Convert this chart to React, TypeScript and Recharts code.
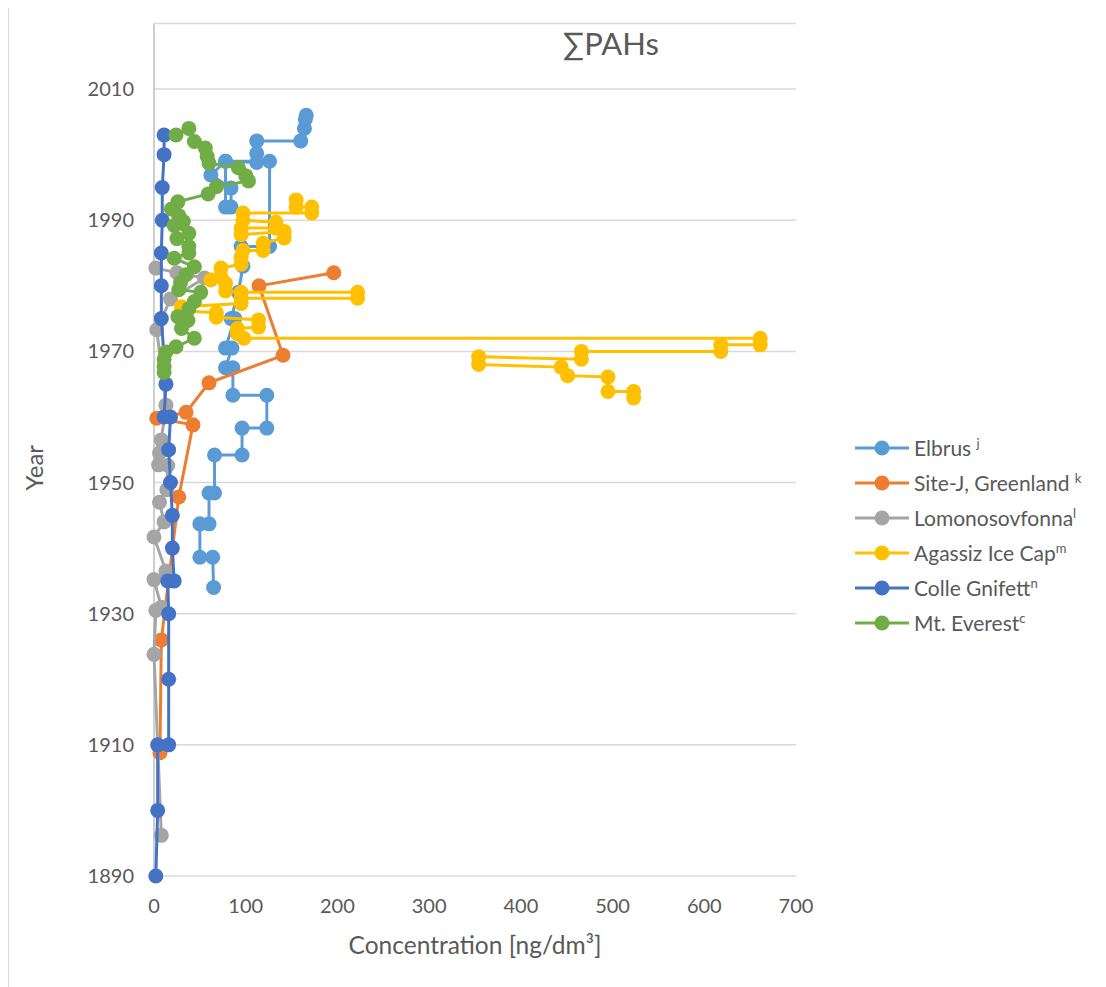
import { ScatterChart, Scatter, XAxis, YAxis, CartesianGrid, Label } from "recharts";

const FONT = "Lato, 'Open Sans', sans-serif";
const TXT = "#595959";

// [concentration, year]
const elbrus: [number, number][] = [
  [166, 2006], [165, 2005.4], [164, 2004], [160, 2002.1], [112, 2002.1], [112, 2000.2],
  [112, 1998.8], [78, 1999.0], [62, 1996.9], [84, 1994.9], [84, 1992], [78, 1992],
  [78, 1999], [126, 1999], [126, 1986], [95, 1986], [97, 1983], [92, 1979],
  [84, 1975], [88, 1975], [78, 1970.5], [85, 1970.5], [78, 1967.5], [86, 1967.5],
  [86, 1963.3], [123, 1963.3], [123, 1958.3], [96, 1958.3], [96, 1954.2], [66, 1954.2],
  [66, 1948.4], [60, 1948.4], [60, 1943.7], [50, 1943.7], [50, 1938.6], [64, 1938.6],
  [65, 1934],
];

const siteJ: [number, number][] = [
  [196, 1982], [114.5, 1980], [140.7, 1969.4], [60, 1965.2], [35, 1960.7], [3, 1959.8],
  [42.5, 1958.8], [27, 1947.8], [8, 1926], [6.5, 1908.8],
];

const lomonosov: [number, number][] = [
  [2, 1982.7], [25, 1982], [55, 1981.2], [18, 1978], [3, 1973.3], [13, 1961.8],
  [8, 1956.5], [6, 1954.5], [5, 1952.7], [15, 1952.6], [14, 1948.9], [6, 1947],
  [11, 1944], [0, 1941.7], [13, 1936.5], [0, 1935.2], [8, 1931], [2, 1930.5],
  [0, 1923.8], [8, 1896.2],
];

const agassiz: [number, number][] = [
  [155, 1993.1], [155, 1992], [172, 1992], [172, 1991.1], [97, 1991.1], [97, 1990],
  [133, 1989.7], [133, 1988.8], [95, 1988.8], [95, 1987.8], [142, 1988.3], [142, 1987.3],
  [119, 1986.5], [119, 1985.4], [97, 1985.4], [95, 1984.3], [95, 1983.3], [73, 1982.7],
  [73, 1981.5], [62, 1980.9], [78, 1980.4], [78, 1979.2], [95, 1979], [222, 1979],
  [222, 1978.1], [95, 1978.1], [95, 1977.3], [30, 1976.8], [30, 1976.2], [68, 1975.9],
  [68, 1975.2], [114, 1974.8], [114, 1973.7], [91, 1973.5], [91, 1972.7], [98, 1972],
  [661, 1972], [661, 1971], [618, 1971], [618, 1970], [466, 1970], [466, 1968.8],
  [354, 1969.2], [354, 1968], [444, 1967.6], [451, 1966.3], [495, 1966.1], [495, 1963.9],
  [523, 1963.9], [523, 1962.9],
];

const colle: [number, number][] = [
  [11, 2003], [11, 2000], [9, 1995], [9, 1990], [8, 1985], [8, 1980], [8, 1975],
  [13, 1965], [11, 1960], [18, 1960], [16, 1955], [18, 1950], [20, 1945], [20, 1940],
  [22, 1935], [15, 1935], [16, 1930], [16, 1920], [16, 1910], [4, 1910], [4, 1900],
  [2, 1890],
];

const everest: [number, number][] = [
  [24, 2003], [38, 2004], [44, 2002], [56, 2001], [58, 1999.7], [60, 1998.7],
  [92, 1998], [100, 1996.8], [103, 1996], [68, 1995.1], [59, 1994], [26, 1992.8],
  [19, 1991.7], [27, 1990.7], [32, 1989.8], [22, 1989.2], [38, 1988], [25, 1987.2],
  [38, 1986], [38, 1985], [22, 1984.2], [44, 1982.9], [35, 1981.7], [29, 1980.5],
  [27, 1979.4], [51, 1979], [44, 1977.6], [38, 1976.5], [26, 1975.3], [37, 1974.7],
  [30, 1973.5], [44, 1972], [24, 1970.7], [13, 1969.9], [11, 1968.8], [11, 1967.7],
  [11, 1966.8],
];

const xTicks = [0, 100, 200, 300, 400, 500, 600, 700];
const yTicks = [1890, 1910, 1930, 1950, 1970, 1990, 2010];

const series = [
  { name: "Elbrus ", sup: "j", color: "#5B9BD5", data: elbrus },
  { name: "Site-J, Greenland ", sup: "k", color: "#ED7D31", data: siteJ },
  { name: "Lomonosovfonna", sup: "l", color: "#A5A5A5", data: lomonosov },
  { name: "Agassiz Ice Cap", sup: "m", color: "#FFC000", data: agassiz },
  { name: "Colle Gnifett", sup: "n", color: "#4472C4", data: colle },
  { name: "Mt. Everest", sup: "c", color: "#70AD47", data: everest },
];

const toPts = (arr: [number, number][]) => arr.map(([c, y]) => ({ c, y }));

const dot = (color: string) => (p: any) => <circle cx={p.cx} cy={p.cy} r={7.5} fill={color} />;

export default function App() {
  return (
    <div style={{ position: "relative", width: 1098, height: 979, fontFamily: FONT, borderLeft: "1px solid #d9d9d9" }}>
      <div style={{ position: "absolute", left: 502, top: 16, width: 200, textAlign: "center", fontSize: 31, color: TXT }}>
        ∑PAHs
      </div>
      <ScatterChart width={1090} height={975} margin={{ top: 15.5, right: 303, bottom: 0, left: 0 }}>
        <CartesianGrid vertical={false} stroke="#d9d9d9" strokeWidth={1.5} />
        <XAxis
          type="number"
          dataKey="c"
          domain={[0, 700]}
          ticks={xTicks}
          axisLine={false}
          tickLine={false}
          tickSize={8}
          tickMargin={15}
          height={107}
          tick={{ fill: TXT, fontSize: 20, fontFamily: FONT }}
        >
          <Label value="Concentration [ng/dm³]" position="center" dy={16} fill={TXT} fontSize={24.5} fontFamily={FONT} />
        </XAxis>
        <YAxis
          type="number"
          dataKey="y"
          domain={[1890, 2020]}
          ticks={yTicks}
          axisLine={{ stroke: "#bfbfbf", strokeWidth: 1.5 }}
          tickLine={false}
          tickSize={8}
          tickMargin={12}
          width={145}
          tick={{ fill: TXT, fontSize: 20, fontFamily: FONT }}
        >
          <Label value="Year" angle={-90} position="center" dx={-47} dy={18} fill={TXT} fontSize={24} fontFamily={FONT} />
        </YAxis>
        {series.map((s) => (
          <Scatter
            key={s.name}
            name={s.name}
            data={toPts(s.data)}
            fill={s.color}
            line={{ stroke: s.color, strokeWidth: 3 }}
            lineType="joint"
            lineJointType="linear"
            shape={dot(s.color)}
            isAnimationActive={false}
          />
        ))}
      </ScatterChart>
      <div style={{ position: "absolute", left: 845, top: 422, color: TXT, fontSize: 21 }}>
        {series.map((s) => (
          <div key={s.name} style={{ display: "flex", alignItems: "center", height: 35 }}>
            <svg width={56} height={18}>
              <line x1={1} y1={9} x2={55} y2={9} stroke={s.color} strokeWidth={3} />
              <circle cx={28} cy={9} r={7.5} fill={s.color} />
            </svg>
            <span style={{ marginLeft: 4, whiteSpace: "pre" }}>
              {s.name}
              <sup style={{ fontSize: 13 }}>{s.sup}</sup>
            </span>
          </div>
        ))}
      </div>
    </div>
  );
}
